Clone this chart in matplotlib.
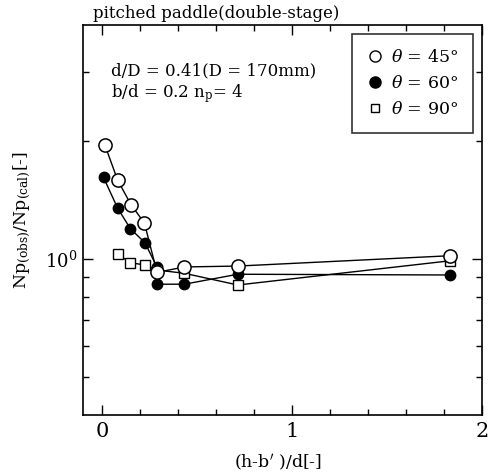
import numpy as np
import matplotlib
matplotlib.use('Agg')
import matplotlib.pyplot as plt
from matplotlib.ticker import FixedLocator, NullFormatter, FixedFormatter

plt.rcParams['font.family'] = ['DejaVu Serif']
plt.rcParams['mathtext.fontset'] = 'dejavuserif'

# theta = 45 deg (open circles)
x45 = [0.015, 0.083, 0.154, 0.224, 0.29, 0.434, 0.715, 1.83]
y45 = [1.96, 1.59, 1.375, 1.236, 0.925, 0.955, 0.96, 1.02]

# theta = 60 deg (filled circles)
x60 = [0.009, 0.083, 0.15, 0.227, 0.29, 0.29, 0.434, 0.715, 1.83]
y60 = [1.615, 1.349, 1.196, 1.10, 0.954, 0.863, 0.863, 0.915, 0.911]

# theta = 90 deg (open squares)
x90 = [0.083, 0.15, 0.227, 0.29, 0.434, 0.715, 1.83]
y90 = [1.03, 0.979, 0.966, 0.938, 0.92, 0.859, 0.99]

fig = plt.figure(figsize=(4.93, 4.75), dpi=100)
ax = fig.add_axes([0.168, 0.126, 0.810, 0.821])

ax.plot(x60, y60, '-o', color='black', mfc='black', mec='black', ms=7.5, lw=1, zorder=3)
ax.plot(x90, y90, '-s', color='black', mfc='white', mec='black', ms=7, mew=1, lw=1, zorder=4)
ax.plot(x45, y45, '-o', color='black', mfc='white', mec='black', ms=9.5, mew=1.1, lw=1, zorder=5)

ax.set_yscale('log')
ax.set_xlim(-0.1, 2.0)
ax.set_ylim(0.4, 3.95)

ax.xaxis.set_major_locator(FixedLocator([0, 1, 2]))
ax.xaxis.set_minor_locator(FixedLocator(np.arange(0.2, 2.0, 0.2)))
ax.yaxis.set_major_locator(FixedLocator([1.0]))
ax.yaxis.set_major_formatter(FixedFormatter([r'$10^0$']))
ax.yaxis.set_minor_locator(FixedLocator([0.5, 0.6, 0.7, 0.8, 0.9, 2.0, 3.0]))
ax.yaxis.set_minor_formatter(NullFormatter())

ax.tick_params(which='both', direction='in', top=True, right=True)
ax.tick_params(axis='x', which='major', length=7, width=1, labelsize=15, pad=5)
ax.tick_params(axis='y', which='major', length=7, width=1, labelsize=13, pad=4)
ax.tick_params(which='minor', length=4, width=1)
for s in ax.spines.values():
    s.set_linewidth(1.2)

ax.set_xlabel("(h-b$'$ )/d[-]", fontsize=12.5)
ax.xaxis.set_label_coords(0.49, -0.095)
ax.set_ylabel(r'Np$_{\rm (obs)}$/Np$_{\rm (cal)}$[-]', fontsize=12.5)
ax.yaxis.set_label_coords(-0.125, 0.5)
ax.set_title('pitched paddle(double-stage)', fontsize=12, loc='left', pad=5, x=0.025)

ax.text(0.07, 0.87, 'd/D = 0.41(D = 170mm)', transform=ax.transAxes, fontsize=12)
ax.text(0.07, 0.815, r'b/d = 0.2 n$_{\rm p}$= 4', transform=ax.transAxes, fontsize=12)

h1, = ax.plot([], [], 'o', color='black', mfc='white', ms=8)
h2, = ax.plot([], [], 'o', color='black', mfc='black', ms=8)
h3, = ax.plot([], [], 's', color='black', mfc='white', ms=5.5)
leg = ax.legend([h1, h2, h3], [r'$\theta$ = 45°', r'$\theta$ = 60°', r'$\theta$ = 90°'],
                loc='upper right', fontsize=12.5, frameon=True, fancybox=False,
                edgecolor='black', handlelength=0.8, handletextpad=0.5,
                borderaxespad=0.5, labelspacing=0.5, borderpad=0.9)
leg.get_frame().set_linewidth(1.2)

fig.savefig('out.png', dpi=100)
